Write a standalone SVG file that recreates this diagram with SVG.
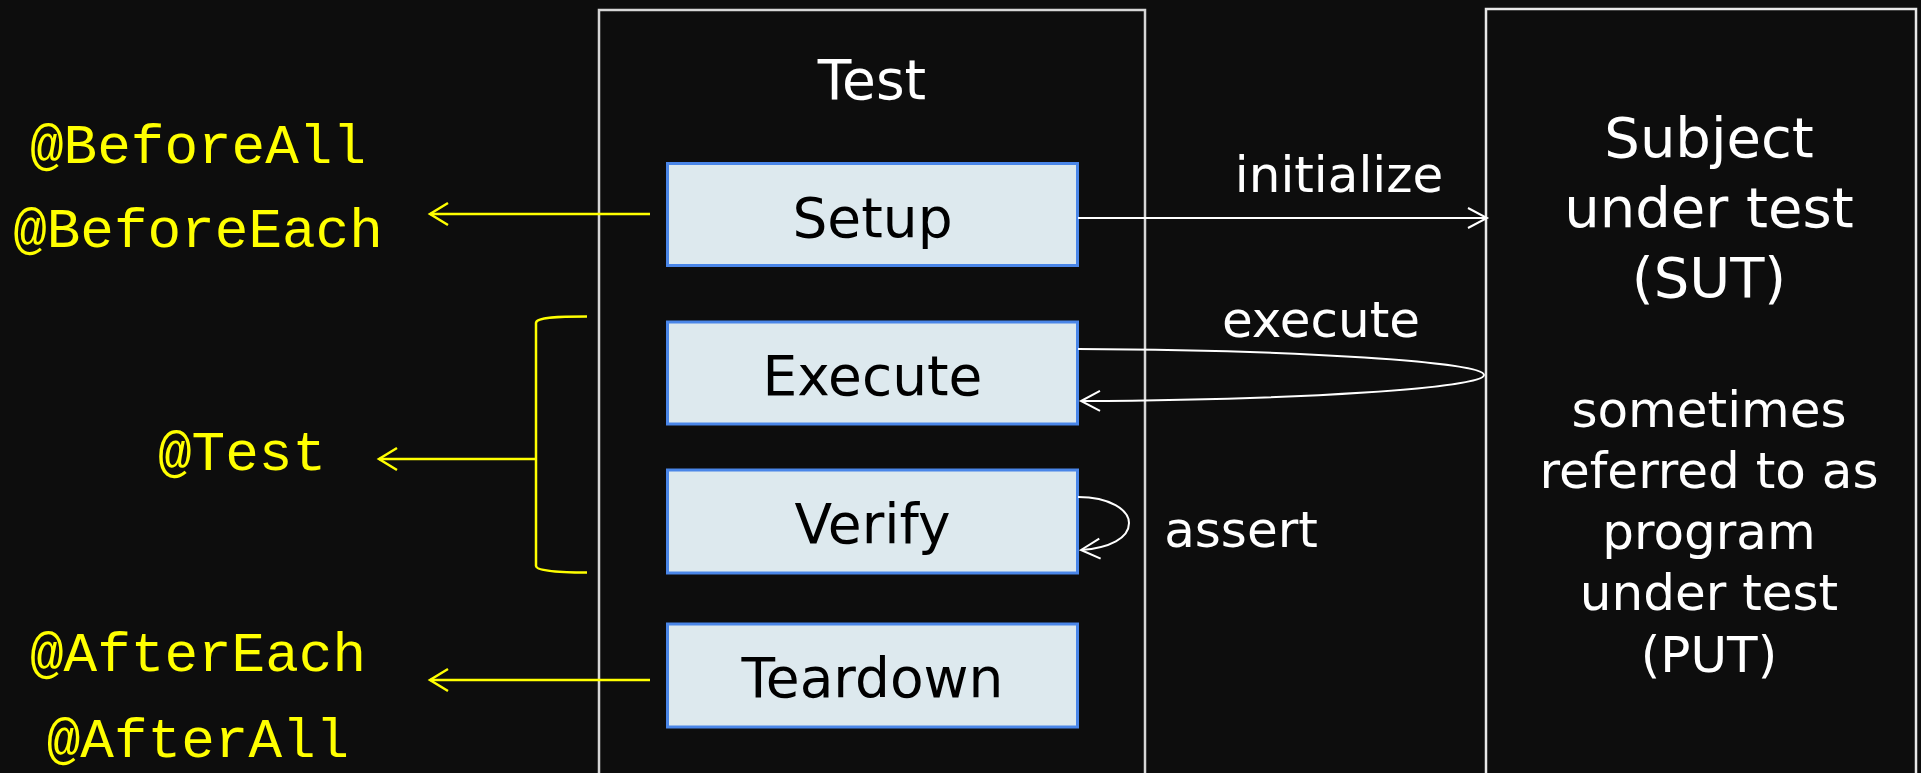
<svg xmlns="http://www.w3.org/2000/svg" width="1921" height="773" viewBox="0 0 1921 773">
  <style>
    .frame { fill: none; stroke: #d6d6d6; stroke-width: 2.5; }
    .step rect { fill: #dde9ee; stroke: #4a86e8; stroke-width: 3; }
    .step text { font-family: Verdana, "DejaVu Sans", sans-serif; font-size: 55px; fill: #000; text-anchor: middle; }
    .wt { font-family: Verdana, "DejaVu Sans", sans-serif; fill: #fff; text-anchor: middle; }
    .big { font-size: 56px; }
    .mid { font-size: 50px; }
    .ann { font-family: "Courier New", "Liberation Mono", monospace; font-size: 56px; fill: #ffff00; text-anchor: middle; }
    .wline { fill: none; stroke: #fff; stroke-width: 2; }
    .yline { fill: none; stroke: #ffff00; stroke-width: 2.5; }
  </style>
  <defs>
    <marker id="wh" markerUnits="userSpaceOnUse" viewBox="-22 -13 24 26" refX="0" refY="0" markerWidth="24" markerHeight="26" orient="auto" overflow="visible">
      <path d="M-19,-10 L0,0 L-19,10" fill="none" stroke="#fff" stroke-width="2"/>
    </marker>
    <marker id="yh" markerUnits="userSpaceOnUse" viewBox="-22 -13 24 26" refX="0" refY="0" markerWidth="24" markerHeight="26" orient="auto" overflow="visible">
      <path d="M-18,-11 L0,0 L-18,11" fill="none" stroke="#ffff00" stroke-width="2.5"/>
    </marker>
  </defs>
  <rect x="0" y="0" width="1921" height="773" fill="#0d0d0d"/>

  <g id="test-frame">
    <rect class="frame" x="599" y="10" width="546" height="790"/>
    <text class="wt" x="872" y="99" font-size="55">Test</text>
  </g>

  <g id="sut">
    <rect class="frame" x="1486" y="9" width="430" height="790" style="stroke:#e8e8e8"/>
    <text class="wt big" x="1709" y="157">Subject</text>
    <text class="wt big" x="1709" y="227">under test</text>
    <text class="wt big" x="1709" y="297">(SUT)</text>
    <text class="wt mid" x="1709" y="427">sometimes</text>
    <text class="wt mid" x="1709" y="488">referred to as</text>
    <text class="wt mid" x="1709" y="549">program</text>
    <text class="wt mid" x="1709" y="610">under test</text>
    <text class="wt mid" x="1709" y="672">(PUT)</text>
  </g>

  <g id="setup" class="step">
    <rect x="667.5" y="163.5" width="410" height="102"/>
    <text x="872.5" y="237">Setup</text>
  </g>
  <g id="execute" class="step">
    <rect x="667.5" y="322" width="410" height="102"/>
    <text x="872.5" y="395">Execute</text>
  </g>
  <g id="verify" class="step">
    <rect x="667.5" y="470" width="410" height="103"/>
    <text x="872.5" y="543">Verify</text>
  </g>
  <g id="teardown" class="step">
    <rect x="667.5" y="624" width="410" height="103"/>
    <text x="872.5" y="697">Teardown</text>
  </g>

  <g id="ann-beforeall"><text class="ann" x="198" y="163">@BeforeAll</text></g>
  <g id="ann-beforeeach"><text class="ann" x="198" y="247">@BeforeEach</text></g>
  <g id="ann-test"><text class="ann" x="242" y="470">@Test</text></g>
  <g id="ann-aftereach"><text class="ann" x="198" y="671">@AfterEach</text></g>
  <g id="ann-afterall"><text class="ann" x="198" y="757">@AfterAll</text></g>

  <g id="connectors">
    <path class="wline" d="M1078,218 L1487,218" marker-end="url(#wh)"/>
    <text class="wt mid" x="1339" y="192">initialize</text>
    <path class="wline" d="M1078,349 C1300,350 1484,362 1484,375 C1484,388 1300,400 1081,401" marker-end="url(#wh)"/>
    <text class="wt mid" x="1321" y="337">execute</text>
    <path class="wline" d="M1078,497 C1110,497 1129,510 1129,523 C1129,538 1110,548 1081,550" marker-end="url(#wh)"/>
    <text class="wt mid" x="1241" y="547">assert</text>

    <path class="yline" d="M650,214 L430,214" marker-end="url(#yh)"/>
    <path class="yline" d="M587,316.5 C560,316.5 536,317 536,323 L536,566 C536,571 560,572.5 587,572.5"/>
    <path class="yline" d="M536,459 L379,459" marker-end="url(#yh)"/>
    <path class="yline" d="M650,680 L430,680" marker-end="url(#yh)"/>
  </g>
</svg>
